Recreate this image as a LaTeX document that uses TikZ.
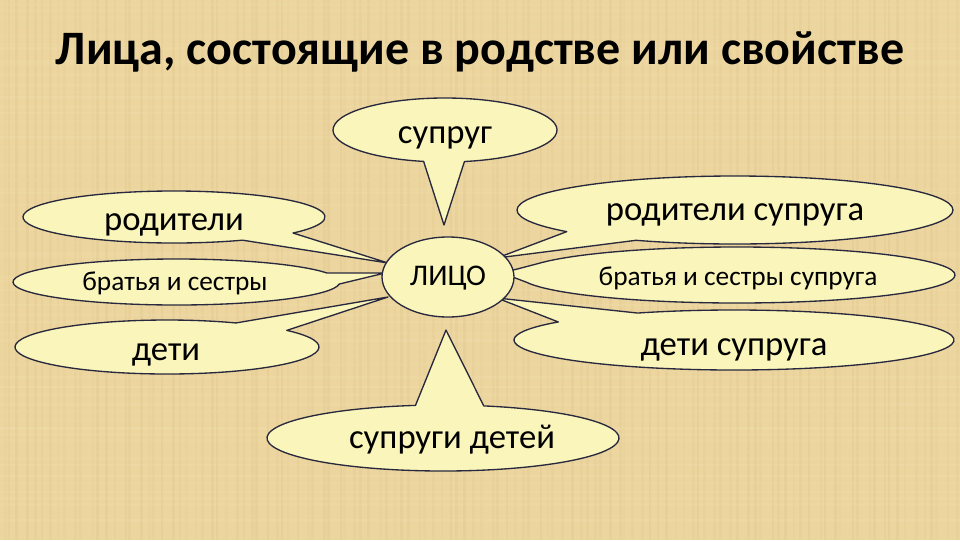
\documentclass[tikz,border=0pt]{standalone}
\usepackage{fontspec}
\setmainfont{Carlito}
\usetikzlibrary{shapes.geometric}
\definecolor{bgc}{RGB}{236,213,158}
\definecolor{bgd}{RGB}{212,184,124}
\definecolor{bgl}{RGB}{247,231,186}
\definecolor{fillc}{RGB}{250,245,186}
\definecolor{edgec}{RGB}{40,40,62}
\tikzset{
  bubble/.style={fill=fillc, draw=edgec, line width=1pt, line join=round},
  biglbl/.style={font=\fontsize{26}{30}\selectfont, text=black, inner sep=0pt, anchor=base},
  smalllbl/.style={font=\fontsize{20.5}{24}\selectfont, text=black, inner sep=0pt, anchor=base},
  titlelbl/.style={font=\bfseries\fontsize{36}{42}\selectfont, text=black, inner sep=0pt, anchor=base}
}
% #1 cx, #2 cy, #3 rx, #4 ry, #5 start angle, #6 end angle, #7 tip coordinate
\newcommand\mybubble[7]{%
  \path[bubble] (#1,#2) ++(#5:#3 and #4)
    arc[start angle=#5, end angle=#6, x radius=#3, y radius=#4] -- (#7) -- cycle;}
\begin{document}
\begin{tikzpicture}[x=0.75pt,y=-0.75pt]
\useasboundingbox (0,0) rectangle (960,540);
\fill[bgc] (0,0) rectangle (960,540);
\pgfmathsetseed{7}
\foreach \i in {0,...,119}{
  \pgfmathsetmacro\xx{\i*8+rnd*6}
  \pgfmathsetmacro\op{0.06+0.14*rnd}
  \draw[bgd, opacity=\op, line width=2pt] (\xx,0) -- (\xx,540);
}
\foreach \i in {0,...,67}{
  \pgfmathsetmacro\yy{\i*8+rnd*6}
  \pgfmathsetmacro\op{0.05+0.14*rnd}
  \draw[bgl, opacity=\op, line width=2pt] (0,\yy) -- (960,\yy);
}
% title
\node[titlelbl] (title) at (480,64) {Лица, состоящие в родстве или свойстве};
% tips
\coordinate (tsupr) at (444,225);
\coordinate (trod) at (388,263);
\coordinate (tbr) at (385,273);
\coordinate (tdet) at (388,297);
\coordinate (trods) at (497,258);
\coordinate (tbrs) at (502,273);
\coordinate (tdets) at (497,298);
\coordinate (tsupd) at (446,330);
% bubbles
\mybubble{445}{130}{112}{32}{101}{440}{tsupr}
\mybubble{174}{217}{151}{26}{63}{398}{trod}
\mybubble{176.5}{282}{163.5}{23}{5}{337}{tbr}
\mybubble{167}{347}{152}{27}{-38}{297}{tdet}
\mybubble{735}{210}{218}{34}{140.5}{477}{trods}
\mybubble{737}{275}{218}{28}{203.6}{525.4}{tbrs}
\mybubble{734}{340}{220}{30}{244}{577}{tdets}
\mybubble{443}{438}{176}{33}{-76.6}{261}{tsupd}
% center
\node[ellipse, bubble, minimum width=99pt, minimum height=60pt, inner sep=0pt] (lico) at (448,277) {};
\node[smalllbl, font=\fontsize{22.5}{26}\selectfont] (licot) at (448,285) {ЛИЦО};
% labels
\node[biglbl] (supr) at (445,143) {супруг};
\node[biglbl] (rod) at (174,230) {родители};
\node[smalllbl] (br) at (175,290) {братья и сестры};
\node[biglbl] (det) at (166,360) {дети};
\node[biglbl] (rods) at (735,220) {родители супруга};
\node[smalllbl] (brs) at (738,285) {братья и сестры супруга};
\node[biglbl] (dets) at (734,355) {дети супруга};
\node[biglbl] (supd) at (452,448) {супруги детей};
\end{tikzpicture}
\end{document}
